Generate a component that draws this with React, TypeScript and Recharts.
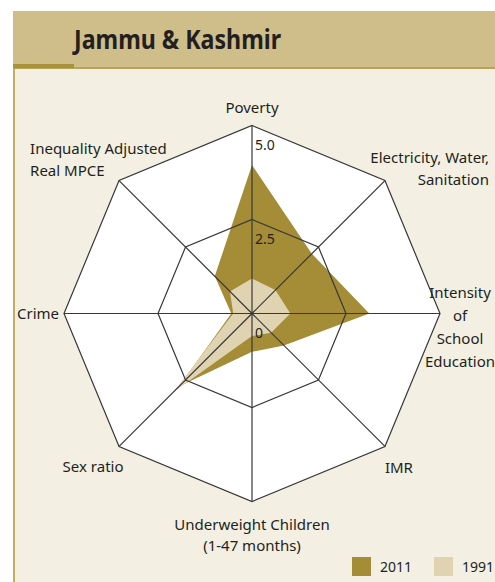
import {
  RadarChart,
  Radar,
  PolarGrid,
  PolarAngleAxis,
  PolarRadiusAxis,
  Legend,
} from "recharts";

// axes clockwise from the top; "\n" marks a line break in the label
const categories = [
  "Poverty",
  "Electricity, Water,\nSanitation",
  "Intensity\nof\nSchool\nEducation",
  "IMR",
  "Underweight Children\n(1-47 months)",
  "Sex ratio",
  "Crime",
  "Inequality Adjusted\nReal MPCE",
];
const values2011 = [3.95, 2.25, 3.12, 1.2, 1.02, 2.75, 0.55, 1.4];
const values1991 = [0.93, 0.88, 1.02, 0.72, 0.6, 2.95, 0.5, 0.83];
const seriesNames = ["2011", "1991"];
const radiusTicks = [0, 2.5, 5];

const data = categories.map((axis, i) => ({
  axis,
  [seriesNames[0]]: values2011[i],
  [seriesNames[1]]: values1991[i],
}));

const W = 495;
const H = 582;
const CX = 252;
const CY = 313.5;
const R = 188;
const DARK = "#a48d36";
const LIGHT = "#dfd3b1";
const GRID = "#383838";
const INK = "#231f20";
const FONT = '"Noto Sans", sans-serif';

// where each label sits relative to its outer vertex
const labelPlacement = [
  { anchor: "middle", dx: 0, dy: -13, lh: 22 },
  { anchor: "end", dx: 104, dy: -18, lh: 22 },
  { anchor: "middle", dx: 20, dy: -16, lh: 23 },
  { anchor: "middle", dx: 14, dy: 27, lh: 22 },
  { anchor: "middle", dx: 0, dy: 28, lh: 21 },
  { anchor: "middle", dx: -26, dy: 26, lh: 22 },
  { anchor: "end", dx: -5, dy: 5, lh: 22 },
  { anchor: "start", dx: -89, dy: -27, lh: 22 },
];

function AngleTick(props: any) {
  const { x, y, payload } = props;
  const idx = categories.indexOf(payload.value);
  const p = labelPlacement[idx] || labelPlacement[0];
  // pull the tick point back onto the outer ring
  const d = Math.hypot(x - CX, y - CY) || 1;
  const vx = CX + ((x - CX) * R) / d;
  const vy = CY + ((y - CY) * R) / d;
  const lines = String(payload.value).split("\n");
  return (
    <text
      x={vx + p.dx}
      y={vy + p.dy}
      textAnchor={p.anchor}
      fill={INK}
      fontSize={15}
      fontFamily={FONT}
    >
      {lines.map((line, i) => (
        <tspan key={i} x={vx + p.dx} dy={i === 0 ? 0 : p.lh}>
          {line}
        </tspan>
      ))}
    </text>
  );
}

function RadiusTick(props: any) {
  const { x, y, payload } = props;
  const v = Number(payload.value);
  return (
    <text x={x + 3} y={y + 24} fill={INK} fontSize={14} fontFamily={FONT} textAnchor="start">
      {v === 0 ? "0" : v.toFixed(1)}
    </text>
  );
}

function LegendContent(props: any) {
  const items = (props.payload || [])
    .filter((p: any) => seriesNames.includes(p.value))
    .sort((a: any, b: any) => seriesNames.indexOf(a.value) - seriesNames.indexOf(b.value));
  return (
    <div style={{ display: "flex", fontFamily: FONT, fontSize: 14, color: INK }}>
      {items.map((item: any) => (
        <div key={item.value} style={{ display: "flex", alignItems: "center", width: 82 }}>
          <span
            style={{ width: 19, height: 19, background: item.color, marginRight: 9, display: "inline-block" }}
          />
          <span>{item.value}</span>
        </div>
      ))}
    </div>
  );
}

export default function App() {
  return (
    <div style={{ position: "relative", width: W, height: H, background: "#fff", overflow: "hidden" }}>
      <style>{"body{margin:0}"}</style>
      {/* panel */}
      <div
        style={{
          position: "absolute",
          left: 13,
          top: 11,
          right: 0,
          bottom: 0,
          background: "#f3efe3",
          borderLeft: "2px solid #c4ae62",
        }}
      />
      <div style={{ position: "absolute", left: 13, top: 11, width: W - 13, height: 56, background: "#cfbe8a" }} />
      <div style={{ position: "absolute", left: 13, top: 67, width: W - 13, height: 2, background: "#b8a55a" }} />
      <div style={{ position: "absolute", left: 13, top: 64, width: 61, height: 4, background: "#a8923a" }} />
      <svg style={{ position: "absolute", left: 0, top: 0 }} width={W} height={70}>
        <text
          x={74}
          y={49}
          fontFamily={FONT}
          fontWeight={700}
          fontSize={27}
          fill={INK}
          textLength={207}
          lengthAdjust="spacingAndGlyphs"
        >
          Jammu &amp; Kashmir
        </text>
      </svg>

      {/* fills underneath */}
      <div style={{ position: "absolute", left: 0, top: 0 }}>
        <RadarChart width={W} height={H} data={data} cx={CX} cy={CY} outerRadius={R} margin={{ top: 0, right: 0, bottom: 0, left: 0 }}>
          <PolarAngleAxis dataKey="axis" tick={false} axisLine={false} tickLine={false} />
          <PolarRadiusAxis
            domain={[radiusTicks[0], radiusTicks[radiusTicks.length - 1]]}
            ticks={radiusTicks}
            tickCount={radiusTicks.length}
            allowDecimals
            tick={false}
            axisLine={false}
          />
          <Radar
            dataKey={() => radiusTicks[radiusTicks.length - 1]}
            fill="#ffffff"
            fillOpacity={1}
            stroke="none"
            legendType="none"
            isAnimationActive={false}
          />
          <Radar
            name={seriesNames[0]}
            dataKey={seriesNames[0]}
            fill={DARK}
            fillOpacity={1}
            stroke="none"
            isAnimationActive={false}
          />
          <Radar
            name={seriesNames[1]}
            dataKey={seriesNames[1]}
            fill={LIGHT}
            fillOpacity={1}
            stroke="none"
            isAnimationActive={false}
          />
          <Legend
            verticalAlign="bottom"
            content={<LegendContent />}
            wrapperStyle={{ left: 352, top: 557, width: "auto", height: "auto" }}
          />
        </RadarChart>
      </div>

      {/* grid and labels on top */}
      <div style={{ position: "absolute", left: 0, top: 0 }}>
        <RadarChart width={W} height={H} data={data} cx={CX} cy={CY} outerRadius={R} margin={{ top: 0, right: 0, bottom: 0, left: 0 }}>
          <PolarGrid gridType="polygon" stroke={GRID} strokeWidth={1.2} />
          <PolarAngleAxis dataKey="axis" tick={<AngleTick />} axisLine={false} tickLine={false} />
          <PolarRadiusAxis
            angle={90}
            domain={[radiusTicks[0], radiusTicks[radiusTicks.length - 1]]}
            ticks={radiusTicks}
            tickCount={radiusTicks.length}
            allowDecimals
            tick={<RadiusTick />}
            axisLine={false}
            tickLine={false}
          />
          <Radar
            dataKey={seriesNames[0]}
            fill="none"
            fillOpacity={0}
            stroke="none"
            legendType="none"
            isAnimationActive={false}
          />
        </RadarChart>
      </div>
    </div>
  );
}
